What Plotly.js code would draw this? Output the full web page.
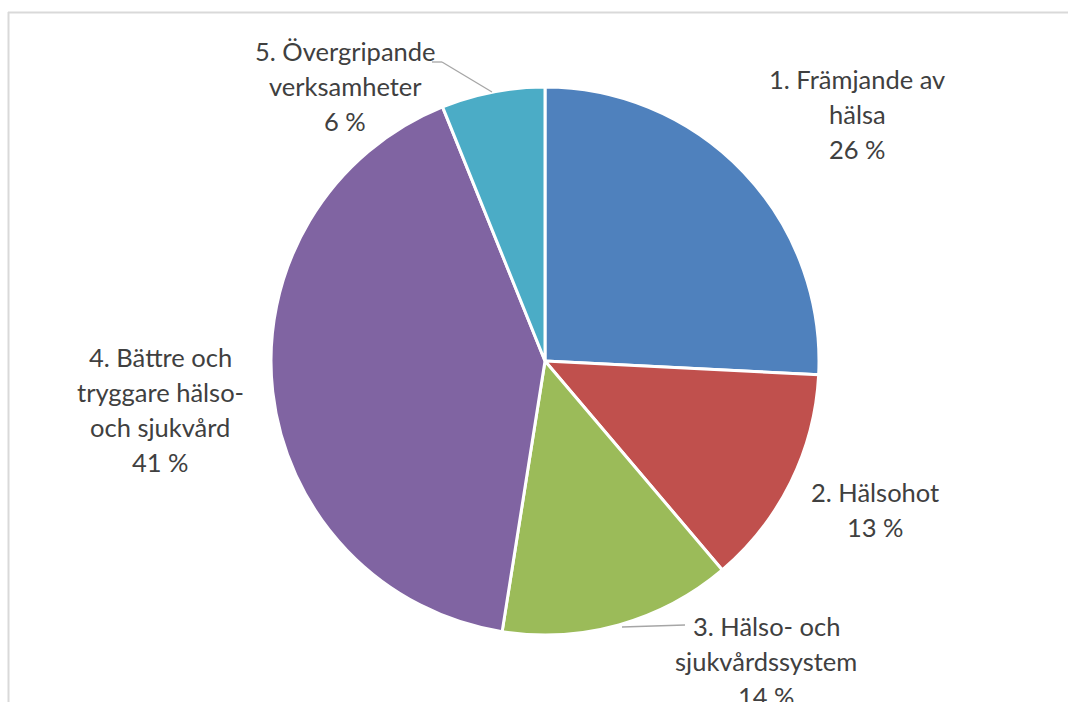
<!DOCTYPE html>
<html>
<head>
<meta charset="utf-8">
<script src="https://cdn.plot.ly/plotly-3.0.1.min.js"></script>
<style>html,body{margin:0;padding:0;background:#fff}#chart{width:1069px;height:702px}</style>
</head>
<body>
<div id="chart"></div>
<script>
// Data
const categories = ["1. Främjande av hälsa", "2. Hälsohot", "3. Hälso- och sjukvårdssystem", "4. Bättre och tryggare hälso- och sjukvård", "5. Övergripande verksamheter"];
const shares = [25.8, 13.0, 13.7, 41.4, 6.1];
const pctLabels = ["26 %", "13 %", "14 %", "41 %", "6 %"];
const labelLines = [
  ["1. Främjande av", "hälsa"],
  ["2. Hälsohot"],
  ["3. Hälso- och", "sjukvårdssystem"],
  ["4. Bättre och", "tryggare hälso-", "och sjukvård"],
  ["5. Övergripande", "verksamheter"]
];
const colors = ["#4F81BD", "#C0504D", "#9BBB59", "#8064A2", "#4BACC6"];

const W = 1069, H = 702;
const px = x => x / W;
const py = y => 1 - y / H;

// pie placement (pixels)
const cx = 545, cy = 361, r = 274;

// label block positions (center x, first line center y)
const labelPos = [[857, 79], [875, 492], [766, 626], [160, 357], [345, 51]];
const lineGap = 35;

const annotations = [];
labelLines.forEach((lines, i) => {
  const all = lines.concat([pctLabels[i]]);
  all.forEach((t, j) => {
    annotations.push({
      xref: 'paper', yref: 'paper',
      x: px(labelPos[i][0]), y: py(labelPos[i][1] + j * lineGap),
      xanchor: 'center', yanchor: 'middle',
      text: t, showarrow: false,
      font: {family: 'Lato, "Open Sans", sans-serif', size: 25.5, color: '#404040'}
    });
  });
});

const line = (x0, y0, x1, y1, color, w) => ({
  type: 'line', xref: 'paper', yref: 'paper',
  x0: px(x0), y0: py(y0), x1: px(x1), y1: py(y1),
  line: {color: color, width: w}
});

const shapes = [
  line(8, 12.5, 1068, 12.5, '#d9d9d9', 2),
  line(8.5, 12, 8.5, 702, '#d9d9d9', 2),
  // leader lines
  line(432, 62, 442, 62, '#a6a6a6', 1.3),
  line(442, 62, 492, 92, '#a6a6a6', 1.3),
  line(622, 627, 685, 625, '#a6a6a6', 1.3)
];

const trace = {
  type: 'pie',
  labels: categories,
  values: shares,
  sort: false,
  direction: 'clockwise',
  rotation: 0,
  textinfo: 'none',
  hoverinfo: 'label+percent',
  marker: {colors: colors, line: {color: '#ffffff', width: 3}},
  domain: {x: [px(cx - r), px(cx + r)], y: [py(cy + r), py(cy - r)]},
  showlegend: false
};

const layout = {
  width: W, height: H,
  margin: {l: 0, r: 0, t: 0, b: 0},
  paper_bgcolor: '#ffffff',
  showlegend: false,
  annotations: annotations,
  shapes: shapes
};

Plotly.newPlot('chart', [trace], layout, {displayModeBar: false, staticPlot: true});
</script>
</body>
</html>
